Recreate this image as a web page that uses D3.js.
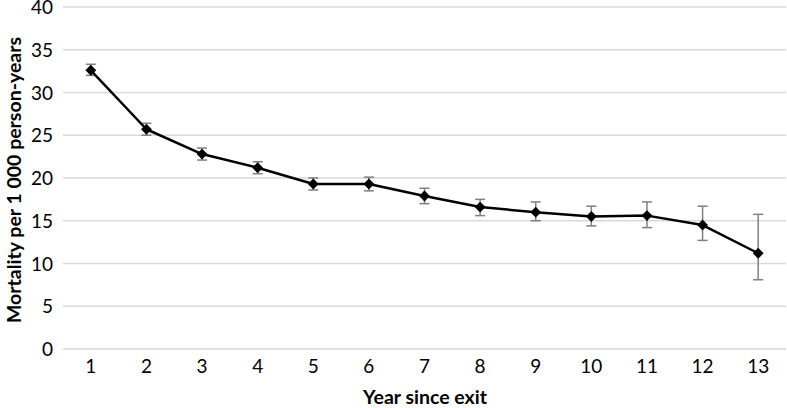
<!DOCTYPE html>
<html><head><meta charset="utf-8">
<script src="https://cdn.jsdelivr.net/npm/d3@7"></script>
<style>body{margin:0;background:#fff}svg{display:block}text{font-family:Lato,"Open Sans",sans-serif}</style>
</head><body><svg id="c" width="787" height="408"></svg>
<script>
const years = ["1","2","3","4","5","6","7","8","9","10","11","12","13"];
const mortality = [32.6,25.7,22.8,21.2,19.3,19.3,17.9,16.6,16.0,15.5,15.6,14.5,11.2];
const upper = [33.3,26.4,23.5,21.9,20.0,20.1,18.8,17.5,17.2,16.7,17.2,16.7,15.75];
const lower = [32.0,25.0,22.1,20.5,18.6,18.5,17.0,15.6,15.0,14.4,14.2,12.7,8.1];
const yTicks = [0,5,10,15,20,25,30,35,40];

const svg = d3.select("#c");
const x = d3.scaleBand().domain(years).range([63,786]);
const y = d3.scaleLinear().domain([0,40]).range([349,7]);

svg.append("g").selectAll("line").data(yTicks).join("line")
  .attr("x1",63).attr("x2",786).attr("y1",d=>y(d)).attr("y2",d=>y(d))
  .attr("stroke","#d9d9d9").attr("stroke-width",1.5);

const yAxis = svg.append("g").attr("transform","translate(63,0)")
  .call(d3.axisLeft(y).tickValues(yTicks).tickSize(0).tickPadding(10));
yAxis.select(".domain").remove();
yAxis.selectAll("text").attr("font-size",19).attr("fill","#000").attr("font-family","Lato")
  .attr("dy","0.35em");

const xAxis = svg.append("g").attr("transform","translate(0,349)")
  .call(d3.axisBottom(x).tickSize(0).tickPadding(11));
xAxis.select(".domain").remove();
xAxis.selectAll("text").attr("font-size",19).attr("fill","#000").attr("font-family","Lato");

const cx = d => x(d)+x.bandwidth()/2;
const eb = svg.append("g").attr("stroke","#7f7f7f").attr("stroke-width",1.5);
years.forEach((d,i)=>{
  eb.append("line").attr("x1",cx(d)).attr("x2",cx(d)).attr("y1",y(upper[i])).attr("y2",y(lower[i]));
  eb.append("line").attr("x1",cx(d)-5).attr("x2",cx(d)+5).attr("y1",y(upper[i])).attr("y2",y(upper[i]));
  eb.append("line").attr("x1",cx(d)-5).attr("x2",cx(d)+5).attr("y1",y(lower[i])).attr("y2",y(lower[i]));
});

const line = d3.line().x((v,i)=>cx(years[i])).y(v=>y(v));
svg.append("path").datum(mortality).attr("d",line).attr("fill","none")
  .attr("stroke","#000").attr("stroke-width",2.5).attr("stroke-linejoin","round");

svg.append("g").selectAll("path").data(mortality).join("path")
  .attr("d",d3.symbol(d3.symbolDiamond2,75)())
  .attr("transform",(v,i)=>`translate(${cx(years[i])},${y(v)})`)
  .attr("fill","#000");

svg.append("text").attr("transform","translate(21,180) rotate(-90)")
  .attr("text-anchor","middle").attr("font-size",19.5).attr("font-weight","bold")
  .text("Mortality per 1 000 person-years");
svg.append("text").attr("x",425).attr("y",404)
  .attr("text-anchor","middle").attr("font-size",19.5).attr("font-weight","bold")
  .text("Year since exit");
</script></body></html>
